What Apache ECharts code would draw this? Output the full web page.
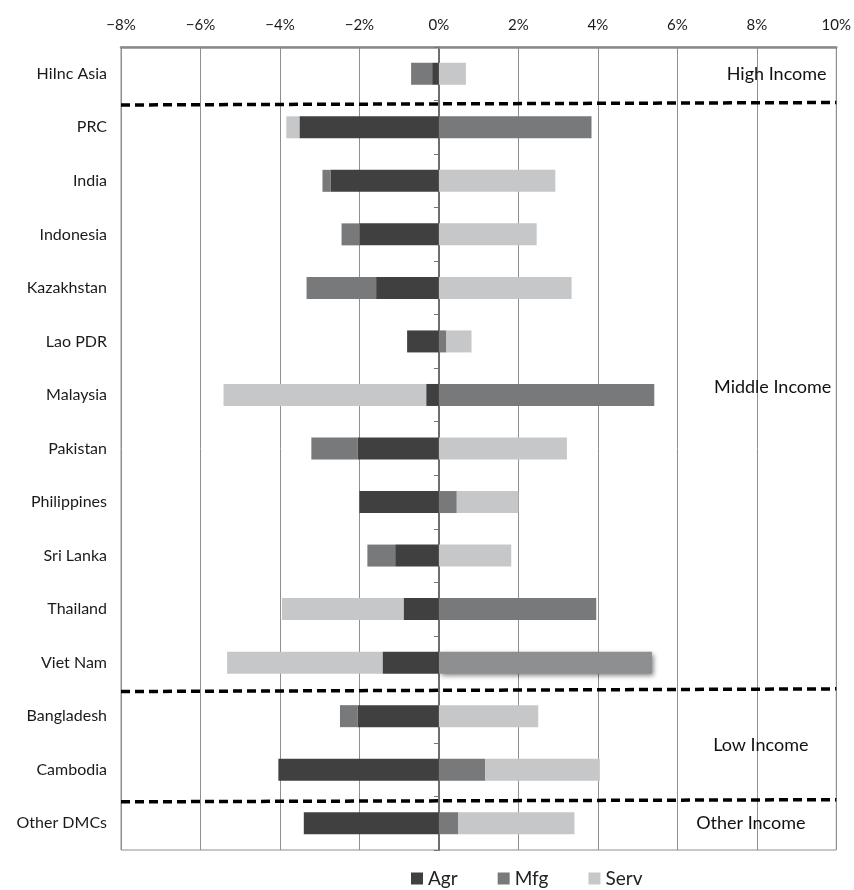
<!DOCTYPE html>
<html>
<head>
<meta charset="utf-8">
<script src="https://cdn.jsdelivr.net/npm/echarts@6/dist/echarts.min.js"></script>
<style>
  html, body { margin: 0; padding: 0; background: #fff; overflow: hidden; }
  #chart { width: 854px; height: 890px; }
</style>
</head>
<body>
<div id="chart"></div>
<script>
const categories = ['HiInc Asia', 'PRC', 'India', 'Indonesia', 'Kazakhstan', 'Lao PDR', 'Malaysia', 'Pakistan', 'Philippines', 'Sri Lanka', 'Thailand', 'Viet Nam', 'Bangladesh', 'Cambodia', 'Other DMCs'];
const agr  = [-0.17, -3.51, -2.73, -2.00, -1.58, -0.80, -0.32, -2.05, -2.00, -1.10, -0.89, -1.42, -2.05, -4.04, -3.40];
const mfg  = [-0.53,  3.84, -0.20, -0.45, -1.75,  0.19,  5.42, -1.16,  0.45, -0.70,  3.96,  5.36, -0.44,  1.17,  0.48];
const serv = [ 0.68, -0.33,  2.93,  2.46,  3.34,  0.63, -5.10,  3.22,  1.55,  1.82, -3.06, -3.91,  2.50,  2.88,  2.93];
const xTicks = [-8, -6, -4, -2, 0, 2, 4, 6, 8, 10];
const groupNames = ['High Income', 'Middle Income', 'Low Income', 'Other Income'];
const groupAnchorX = [8.5, 8.4, 8.1, 7.85];
const groupAnchorY = [0.5, 6.35, 13.05, 14.5];
const dividerY = [[1.083, 1.037], [12.04, 11.99], [14.10, 14.06]];

const FONT = 'Lato, "Open Sans", sans-serif';
const highlighted = 'Viet Nam';

const chart = echarts.init(document.getElementById('chart'), null, { renderer: 'canvas', width: 854, height: 890 });

const mfgData = mfg.map((v, i) => categories[i] === highlighted ? {
  value: v,
  itemStyle: { color: '#8e8f91', shadowBlur: 5, shadowColor: 'rgba(0,0,0,0.5)', shadowOffsetX: 2, shadowOffsetY: 2 }
} : v);

const dividerSeries = dividerY.map(pair => ({
  type: 'line',
  xAxisIndex: 0,
  yAxisIndex: 2,
  data: [[xTicks[0], pair[0]], [xTicks[xTicks.length - 1], pair[1]]],
  symbol: 'none',
  silent: true,
  z: 10,
  lineStyle: { color: '#000', width: 3.5, type: [9, 5] },
  animation: false
}));

const option = {
  animation: false,
  backgroundColor: '#fff',
  textStyle: { fontFamily: FONT },
  grid: { left: 121, right: 13, top: 47, bottom: 40, show: true, borderColor: '#8f8f8f', borderWidth: 1 },
  legend: {
    data: ['Agr', 'Mfg', 'Serv'],
    left: 406, top: 864,
    icon: 'rect', itemWidth: 12, itemHeight: 12, itemGap: 40,
    textStyle: { fontSize: 19, color: '#222', fontFamily: FONT }
  },
  xAxis: {
    type: 'value', position: 'top',
    min: xTicks[0], max: xTicks[xTicks.length - 1], interval: 2,
    axisLine: { show: true, lineStyle: { color: '#8a8a8a', width: 2.5 } },
    axisTick: { show: false },
    splitLine: { show: true, lineStyle: { color: '#8f8f8f', width: 1 } },
    axisLabel: {
      margin: 14, fontSize: 15, color: '#1a1a1a', fontFamily: FONT,
      formatter: v => (v < 0 ? '\u2212' + Math.abs(v) : v) + '%'
    }
  },
  yAxis: [
    {
      type: 'category', data: categories, inverse: true, position: 'left',
      axisLine: { show: false, onZero: false },
      axisTick: { show: false },
      axisLabel: { margin: 14, fontSize: 16, color: '#1a1a1a', fontFamily: FONT }
    },
    {
      type: 'category', data: categories, inverse: true, position: 'left',
      axisLine: { show: true, onZero: true, lineStyle: { color: '#6e6e6e', width: 2 } },
      axisTick: { show: true, length: 5, lineStyle: { color: '#777', width: 1 } },
      axisLabel: { show: false }
    },
    {
      type: 'value', min: 0, max: categories.length, inverse: true, show: false
    }
  ],
  series: [
    { name: 'Agr', type: 'bar', stack: 'all', data: agr, barWidth: 22, itemStyle: { color: '#404040' } },
    { name: 'Mfg', type: 'bar', stack: 'all', data: mfgData, barWidth: 22, itemStyle: { color: '#78797b' } },
    { name: 'Serv', type: 'bar', stack: 'all', data: serv, barWidth: 22, itemStyle: { color: '#c6c7c9' } },
    ...dividerSeries,
    {
      type: 'scatter', xAxisIndex: 0, yAxisIndex: 2, symbolSize: 1, silent: true, z: 12,
      itemStyle: { opacity: 0 },
      data: groupNames.map((n, i) => ({ name: n, value: [groupAnchorX[i], groupAnchorY[i]] })),
      label: { show: true, position: 'inside', formatter: p => p.name, fontSize: 18, color: '#111', opacity: 1, fontFamily: FONT }
    }
  ]
};

chart.setOption(option);
</script>
</body>
</html>
